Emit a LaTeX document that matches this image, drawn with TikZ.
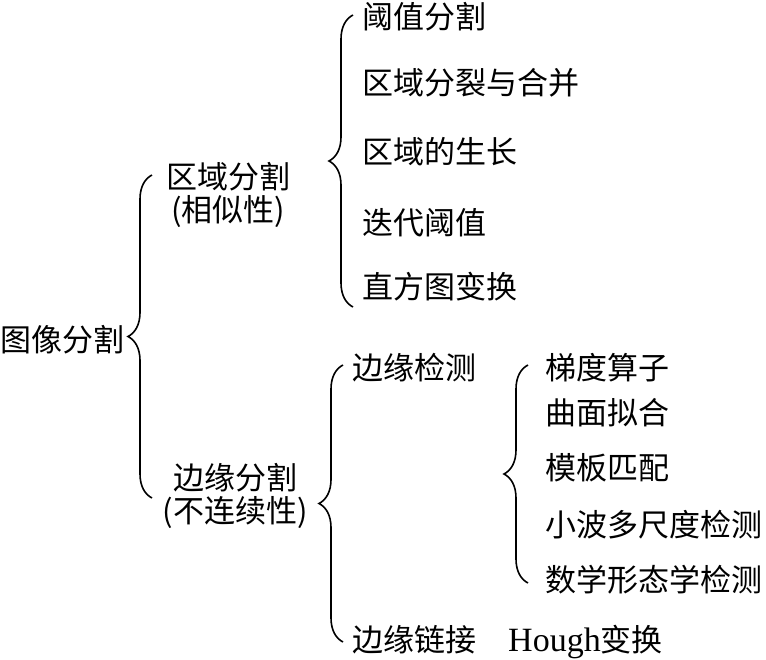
\documentclass[tikz,border=0pt]{standalone}
\usepackage{fontspec}
\setmainfont{Noto Sans CJK SC}
\newfontfamily\latinrm{Liberation Serif}
\usetikzlibrary{decorations.pathreplacing}
\tikzset{
  item/.style={anchor=west,inner sep=0pt,font=\fontsize{31}{34}\selectfont,
    text height=27pt,text depth=4pt},
  grp/.style={align=center,inner sep=0pt,font=\fontsize{31}{33}\selectfont},
  brc/.style={decorate,decoration={brace,amplitude=24pt},line width=1.6pt}
}

\begin{document}
\begin{tikzpicture}[x=1pt,y=-1pt]
  \useasboundingbox (0,0) rectangle (766,659);
  % root and the two kinds
  \node[item] (txfg) at (0,340) {图像分割};
  \node[grp] (qyfg) at (228,195) {区域分割\\(相似性)};
  \node[grp] (byfg) at (235,496) {边缘分割\\(不连续性)};
  % region methods
  \node[item] (yzfg) at (362,17) {阈值分割};
  \node[item] (flhb) at (362,83) {区域分裂与合并};
  \node[item] (qysz) at (362,152) {区域的生长};
  \node[item] (ddyz) at (362,223) {迭代阈值};
  \node[item] (zftb) at (362,287) {直方图变换};
  % edge methods
  \node[item] (byjc) at (352,368) {边缘检测};
  \node[item] (bylj) at (352,640) {边缘链接};
  \node[item] (hough) at (508,640) {{\latinrm\fontsize{34}{36}\selectfont Hough}变换};
  \node[item] (tdsz) at (545,368) {梯度算子};
  \node[item] (qmnh) at (545,413) {曲面拟合};
  \node[item] (mbpp) at (545,468) {模板匹配};
  \node[item] (xbjc) at (545,525) {小波多尺度检测};
  \node[item] (sxjc) at (545,580) {数学形态学检测};
  % brace ends
  \coordinate (b1t) at (152,175);
  \coordinate (b1b) at (152,498);
  \coordinate (b2t) at (353,15);
  \coordinate (b2b) at (353,307);
  \coordinate (b3t) at (343,365);
  \coordinate (b3b) at (343,642);
  \coordinate (b4t) at (528,365);
  \coordinate (b4b) at (528,583);
  \draw[brc] (b1b) -- (b1t);
  \draw[brc] (b2b) -- (b2t);
  \draw[brc] (b3b) -- (b3t);
  \draw[brc] (b4b) -- (b4t);
\end{tikzpicture}
\end{document}
